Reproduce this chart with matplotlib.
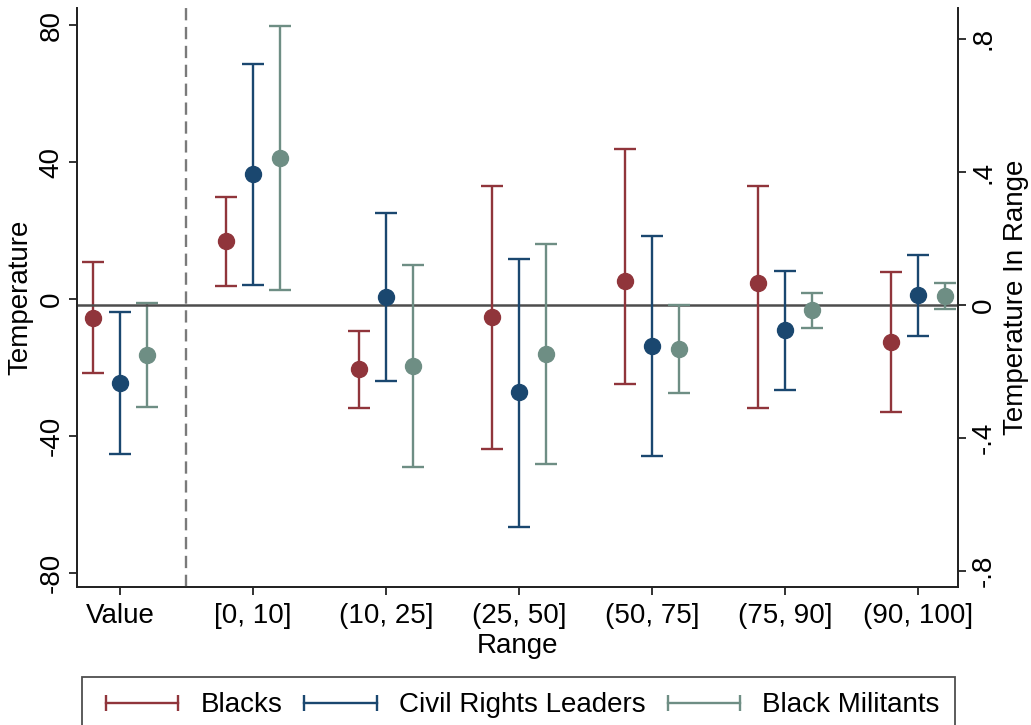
import matplotlib
matplotlib.use("Agg")
import matplotlib.pyplot as plt
from matplotlib.lines import Line2D

plt.rcParams['font.family'] = ['Liberation Sans', 'DejaVu Sans']

# group names on the x axis
categories = ['Value', '[0, 10]', '(10, 25]', '(25, 50]', '(50, 75]', '(75, 90]', '(90, 100]']
series = ['Blacks', 'Civil Rights Leaders', 'Black Militants']
colors = ['#90353B', '#1A476F', '#6E8E84']

# "Value" group, left axis (Temperature)
value_pt = [-5.5, -24.5, -16.4]
value_hi = [11.0, -3.7, -1.2]
value_lo = [-21.7, -45.3, -31.6]

# range groups, right axis (Temperature In Range), one list per series
blacks_pt = [0.192, -0.193, -0.037, 0.072, 0.065, -0.110]
blacks_hi = [0.326, -0.079, 0.359, 0.469, 0.358, 0.100]
blacks_lo = [0.057, -0.309, -0.433, -0.238, -0.310, -0.322]

crl_pt = [0.393, 0.025, -0.262, -0.123, -0.075, 0.030]
crl_hi = [0.725, 0.278, 0.140, 0.208, 0.103, 0.152]
crl_lo = [0.060, -0.227, -0.667, -0.454, -0.256, -0.093]

mil_pt = [0.443, -0.183, -0.148, -0.132, -0.016, 0.026]
mil_hi = [0.840, 0.121, 0.183, 0.000, 0.037, 0.065]
mil_lo = [0.045, -0.488, -0.479, -0.265, -0.069, -0.013]

range_pt = [blacks_pt, crl_pt, mil_pt]
range_hi = [blacks_hi, crl_hi, mil_hi]
range_lo = [blacks_lo, crl_lo, mil_lo]

offsets = [-0.2, 0.0, 0.2]
fs = 20

fig = plt.figure(figsize=(10.31, 7.25), dpi=100)
ax = fig.add_axes([0.0747, 0.190, 0.8545, 0.799])
ax2 = ax.twinx()

ebkw = dict(fmt='o', markersize=11.5, elinewidth=1.7, capsize=8, capthick=1.7)

for i in range(3):
    x = 0 + offsets[i]
    y = value_pt[i]
    ax.errorbar([x], [y], yerr=[[y - value_lo[i]], [value_hi[i] - y]],
                color=colors[i], zorder=3, **ebkw)
    xs = [k + 1 + offsets[i] for k in range(len(range_pt[i]))]
    lo = [p - l for p, l in zip(range_pt[i], range_lo[i])]
    hi = [h - p for p, h in zip(range_pt[i], range_hi[i])]
    ax2.errorbar(xs, range_pt[i], yerr=[lo, hi], color=colors[i], zorder=3, **ebkw)

ax2.axhline(0, color='#4d4d4d', lw=1.8, zorder=1)
ax2.axvline(0.5, color='#7a7a7a', lw=1.7, ls=(0, (5.2, 2.8)), zorder=1)

ax.set_xlim(-0.323, 6.30)
ax.set_ylim(-84.2, 85.1)
ax2.set_ylim(-0.848, 0.893)

ax.set_xticks(range(len(categories)))
ax.set_xticklabels(categories, fontsize=fs)
ax.set_xlabel('Range', fontsize=fs, labelpad=3)

ax.set_yticks([-80, -40, 0, 40, 80])
ax.set_yticklabels(['-80', '-40', '0', '40', '80'], fontsize=fs, rotation=90, va='center')
ax.set_ylabel('Temperature', fontsize=fs, labelpad=4)

ax2.set_yticks([-0.8, -0.4, 0, 0.4, 0.8])
ax2.set_yticklabels(['-.8', '-.4', '0', '.4', '.8'], fontsize=fs, rotation=90, va='center')
ax2.set_ylabel('Temperature In Range', fontsize=fs, labelpad=5)

for a in (ax, ax2):
    a.spines['top'].set_visible(False)
    for s in a.spines.values():
        s.set_linewidth(1.3)
        s.set_color('#222222')
    a.tick_params(length=6, width=1.3, color='#222222', pad=3)
ax.tick_params(axis='x', pad=5)

handles = [Line2D([0, 1], [0, 0], color=c, lw=1.7, marker='|', markersize=12,
                  markeredgewidth=1.7) for c in colors]
fig.legend(handles, series, loc='upper center', ncol=3, fontsize=fs, numpoints=2,
           handlelength=3.2, handletextpad=0.5, columnspacing=0.5,
           bbox_to_anchor=(518.5 / 1031, 1 - 677 / 725), borderaxespad=0,
           frameon=True, fancybox=False, edgecolor='#222222', borderpad=0.55)
leg = fig.legends[0]
leg.get_frame().set_linewidth(1.3)
for h in leg.legend_handles:
    h._marker_pad = 0

fig.savefig('out.png', dpi=100)
